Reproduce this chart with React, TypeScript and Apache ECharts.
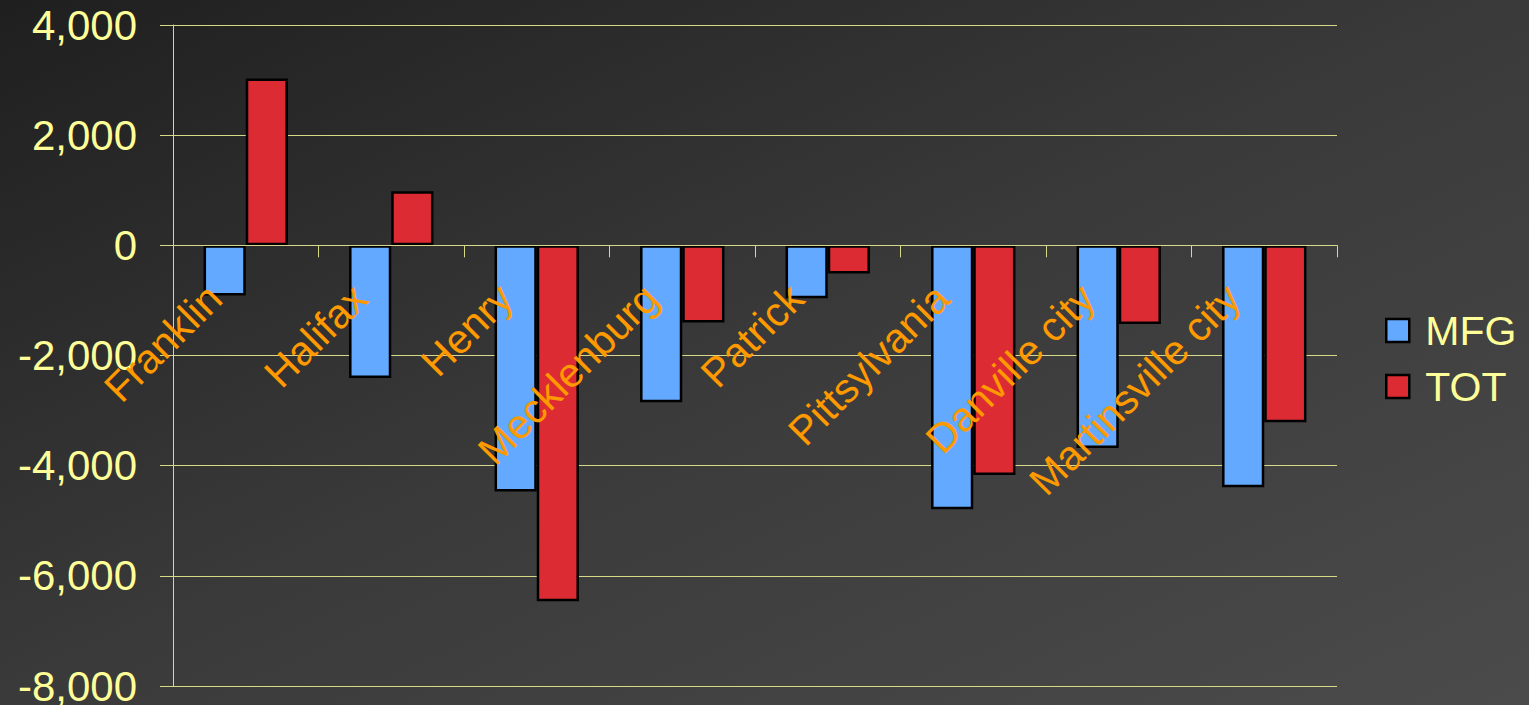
import React, { useEffect, useRef } from "react";
import * as echarts from "echarts";

const categories = ["Franklin", "Halifax", "Henry", "Mecklenburg", "Patrick", "Pittsylvania", "Danville city", "Martinsville city"];
const mfgValues = [-910, -2410, -4470, -2850, -960, -4790, -3680, -4390];
const totValues = [3030, 980, -6460, -1400, -510, -4170, -1430, -3210];
const yTicks = { min: -8000, max: 4000, interval: 2000 };

const fmt = (v: number) => {
  const s = Math.abs(v).toString().replace(/\B(?=(\d{3})+(?!\d))/g, ",");
  return (v < 0 ? "-" : "") + s;
};

export default function App() {
  const ref = useRef<HTMLDivElement>(null);
  useEffect(() => {
    if (!ref.current) return;
    const chart = echarts.init(ref.current, undefined, { renderer: "svg" });
    const axisColor = "#d8d88a";
    const font = "Liberation Sans, Arial, sans-serif";
    const gridTop = 25;
    const gridBottom = 19;
    const gridHeight = 705 - gridTop - gridBottom;
    const zeroOffset = -gridHeight * (0 - yTicks.min) / (yTicks.max - yTicks.min);
    chart.setOption({
      animation: false,
      backgroundColor: new echarts.graphic.LinearGradient(0, 0, 1, 1, [
        { offset: 0, color: "#1f1f1f" },
        { offset: 0.5, color: "#3a3a3a" },
        { offset: 1, color: "#4b4b4b" },
      ]),
      grid: { left: 173, right: 192, top: gridTop, bottom: gridBottom, containLabel: false, outerBoundsMode: "none" },
      legend: {
        orient: "vertical",
        left: 1380,
        top: 305,
        itemWidth: 23,
        itemHeight: 23,
        itemGap: 15,
        icon: "rect",
        itemStyle: { borderColor: "#000", borderWidth: 2.5 },
        textStyle: { color: "#ffff99", fontSize: 41, fontFamily: font, padding: [0, 0, 0, 11] },
        data: ["MFG", "TOT"],
      },
      xAxis: {
        type: "category",
        data: categories,
        z: 3,
        position: "bottom",
        offset: zeroOffset,
        axisLine: { onZero: false, lineStyle: { color: axisColor, width: 1 } },
        axisTick: { show: true, length: 12, lineStyle: { color: axisColor } },
        axisLabel: {
          interval: 0,
          rotate: 45,
          margin: 15,
          color: "#ff9900",
          fontSize: 41,
          fontFamily: font,
          padding: [0, 44, 0, 0],
        },
      },
      yAxis: {
        type: "value",
        min: yTicks.min,
        max: yTicks.max,
        interval: yTicks.interval,
        axisLine: { show: true, lineStyle: { color: axisColor, width: 1 } },
        axisTick: { show: true, length: 13, lineStyle: { color: axisColor } },
        splitLine: { show: true, lineStyle: { color: axisColor, width: 1 } },
        axisLabel: {
          color: "#ffff99",
          fontSize: 42,
          fontFamily: font,
          margin: 36,
          formatter: (v: number) => fmt(v),
        },
      },
      series: [
        {
          name: "MFG",
          type: "bar",
          data: mfgValues,
          barGap: "0%",
          barCategoryGap: "42%",
          itemStyle: { color: "#63a9ff", borderColor: "#000", borderWidth: 2.5 },
        },
        {
          name: "TOT",
          type: "bar",
          data: totValues,
          itemStyle: { color: "#dd2b33", borderColor: "#000", borderWidth: 2.5 },
        },
      ],
    });
    return () => chart.dispose();
  }, []);
  return <div ref={ref} style={{ position: "fixed", left: 0, top: 0, width: 1529, height: 705 }} />;
}
